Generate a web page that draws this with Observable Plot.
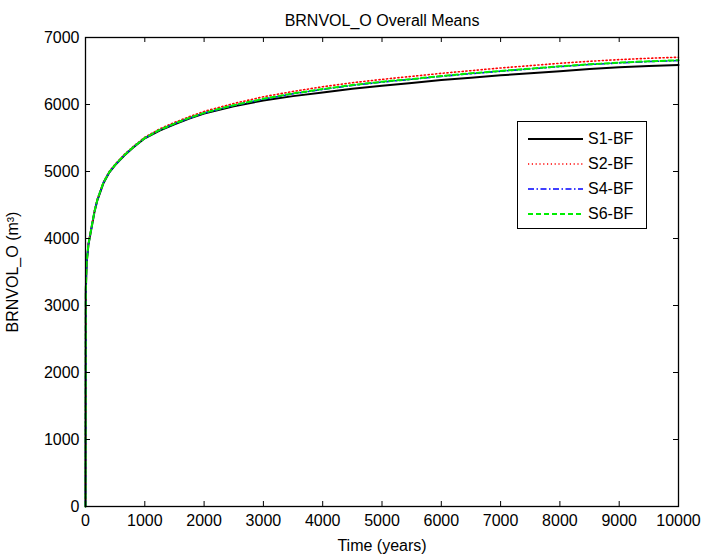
<!DOCTYPE html>
<html>
<head>
<meta charset="utf-8">
<script src="https://cdn.jsdelivr.net/npm/d3@7"></script>
<script src="https://cdn.jsdelivr.net/npm/@observablehq/plot@0.6"></script>
<style>
  html, body { margin: 0; padding: 0; background: white; }
  #wrap { position: relative; width: 704px; height: 554px; }
  #legend { position: absolute; left: 517px; top: 121px; width: 128px; height: 106px;
    border: 1.5px solid black; background: white; font-family: "Liberation Sans", Arial, sans-serif; font-size: 16px; }
  .row { position: absolute; left: 0; height: 20px; display: flex; align-items: center; }
  .row svg { margin-left: 10px; }
  .row span { margin-left: 5px; color: black; }
</style>
</head>
<body>
<div id="wrap"></div>
<script>
const time = [0, 5, 20, 50, 75, 100, 150, 200, 300, 400, 500, 650, 800, 1000, 1250, 1500, 1750, 2000, 2500, 3000, 3500, 4000, 4500, 5000, 5500, 6000, 6500, 7000, 7500, 8000, 8500, 9000, 9500, 10000];
const s1 = [0, 3200, 3640, 3910, 4030, 4150, 4390, 4570, 4820, 4985, 5095, 5235, 5355, 5495, 5612, 5705, 5790, 5865, 5975, 6060, 6125, 6180, 6235, 6280, 6320, 6365, 6400, 6435, 6465, 6495, 6530, 6555, 6575, 6590];
const s2 = [0, 3250, 3660, 3930, 4050, 4170, 4410, 4590, 4840, 5000, 5110, 5250, 5370, 5512, 5635, 5732, 5818, 5897, 6015, 6115, 6195, 6265, 6325, 6375, 6420, 6465, 6505, 6545, 6580, 6615, 6645, 6670, 6690, 6705];
const s4 = [0, 3250, 3650, 3920, 4040, 4160, 4400, 4580, 4830, 4990, 5100, 5240, 5360, 5500, 5618, 5712, 5797, 5872, 5986, 6080, 6160, 6225, 6285, 6335, 6376, 6420, 6460, 6497, 6531, 6566, 6596, 6621, 6641, 6656];
const s6 = [0, 3250, 3650, 3920, 4040, 4160, 4400, 4580, 4830, 4990, 5100, 5240, 5360, 5500, 5620, 5715, 5800, 5875, 5990, 6085, 6165, 6230, 6290, 6340, 6380, 6425, 6465, 6500, 6535, 6570, 6600, 6625, 6645, 6660];
const seriesNames = ["S1-BF", "S2-BF", "S4-BF", "S6-BF"];
const seriesValues = [s1, s2, s4, s6];
const colors = ["#000000", "#ff0000", "#0000ff", "#00ee00"];
const dashes = [null, "1.2,2.6", "6,2.5,1.5,2.5", "5,3"];
const widths = [2, 1.6, 1.6, 2];
const xTicks = [0, 1000, 2000, 3000, 4000, 5000, 6000, 7000, 8000, 9000, 10000];
const yTicks = [0, 1000, 2000, 3000, 4000, 5000, 6000, 7000];
const titleText = "BRNVOL_O Overall Means";
const xLabel = "Time (years)";
const yLabel = "BRNVOL_O (m³)";

const W = 704, H = 554, mL = 85, mR = 26, mT = 37, mB = 48;
const innerW = W - mL - mR, innerH = H - mT - mB;
const font = "'Liberation Sans', Arial, sans-serif";

const lineMarks = seriesValues.map((vals, k) =>
  Plot.line(time.map((t, i) => ({t, v: vals[i]})), {
    x: "t", y: "v", stroke: colors[k], strokeWidth: widths[k],
    strokeDasharray: dashes[k] || undefined
  })
);

const chart = Plot.plot({
  width: W, height: H,
  marginLeft: mL, marginRight: mR, marginTop: mT, marginBottom: mB,
  style: {fontFamily: font, fontSize: "16px", background: "white", color: "black", overflow: "visible"},
  x: {domain: [0, 10000]},
  y: {domain: [0, 7000]},
  marks: [
    ...lineMarks,
    Plot.tickX(xTicks, {x: d => d, insetTop: innerH - 5, stroke: "black", strokeWidth: 1}),
    Plot.tickX(xTicks, {x: d => d, insetBottom: innerH - 5, stroke: "black", strokeWidth: 1}),
    Plot.tickY(yTicks, {y: d => d, insetRight: innerW - 5, stroke: "black", strokeWidth: 1}),
    Plot.tickY(yTicks, {y: d => d, insetLeft: innerW - 5, stroke: "black", strokeWidth: 1}),
    Plot.frame({stroke: "black", strokeWidth: 1.3}),
    Plot.axisX(xTicks, {anchor: "bottom", tickSize: 0, tickPadding: 8, tickFormat: d => String(d), label: null, fontSize: 16}),
    Plot.axisY(yTicks, {anchor: "left", tickSize: 0, tickPadding: 6, tickFormat: d => String(d), label: null, fontSize: 16}),
    Plot.text([titleText], {frameAnchor: "top", dy: -17, lineAnchor: "middle", textAnchor: "middle", text: d => d, fontSize: 16, fill: "black"}),
    Plot.text([xLabel], {frameAnchor: "bottom", dy: 39, lineAnchor: "middle", textAnchor: "middle", text: d => d, fontSize: 16, fill: "black"}),
    Plot.text([yLabel], {frameAnchor: "left", dx: -73, rotate: -90, lineAnchor: "middle", textAnchor: "middle", text: d => d, fontSize: 16, fill: "black"})
  ]
});

const wrap = document.getElementById("wrap");
wrap.appendChild(chart);

const legend = document.createElement("div");
legend.id = "legend";
seriesNames.forEach((name, k) => {
  const row = document.createElement("div");
  row.className = "row";
  row.style.top = (7 + k * 25) + "px";
  const svg = document.createElementNS("http://www.w3.org/2000/svg", "svg");
  svg.setAttribute("width", "55");
  svg.setAttribute("height", "10");
  const ln = document.createElementNS("http://www.w3.org/2000/svg", "line");
  ln.setAttribute("x1", "0"); ln.setAttribute("x2", "55");
  ln.setAttribute("y1", "5"); ln.setAttribute("y2", "5");
  ln.setAttribute("stroke", colors[k]);
  ln.setAttribute("stroke-width", String(widths[k]));
  if (dashes[k]) ln.setAttribute("stroke-dasharray", dashes[k]);
  svg.appendChild(ln);
  const sp = document.createElement("span");
  sp.textContent = name;
  row.appendChild(svg);
  row.appendChild(sp);
  legend.appendChild(row);
});
wrap.appendChild(legend);
</script>
</body>
</html>
